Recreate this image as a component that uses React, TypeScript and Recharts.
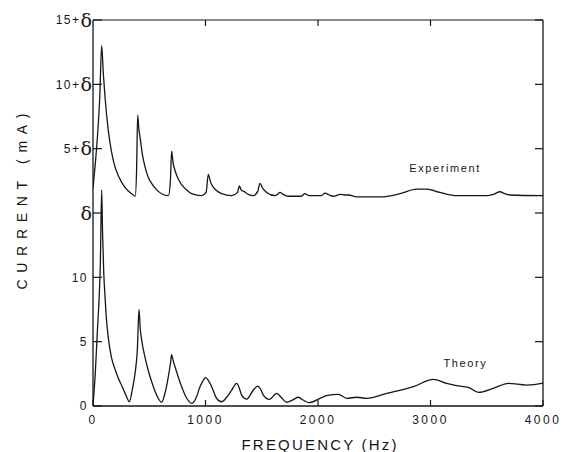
import React from 'react';
import { LineChart, Line, XAxis, YAxis, ReferenceDot } from 'recharts';

// ---- data (frequency in Hz, current in mA; upper trace offset by δ = 15) ----
const expFreq = [0, 20, 40, 60, 77, 92, 107, 136, 166, 195, 225, 284, 344, 375, 388, 397, 408, 418, 440, 462, 490, 521, 566, 610, 670, 688, 699, 712, 729, 760, 788, 830, 877, 966, 1005, 1025, 1045, 1070, 1105, 1144, 1233, 1285, 1301, 1320, 1336, 1380, 1425, 1465, 1484, 1510, 1544, 1618, 1640, 1662, 1690, 1736, 1850, 1884, 1920, 2030, 2062, 2100, 2136, 2200, 2240, 2270, 2344, 2551, 2729, 2877, 2966, 3084, 3233, 3500, 3560, 3618, 3660, 3707, 4000];
const expCurrent = [16.9, 18.8, 21.0, 24.0, 28.0, 25.8, 24.0, 21.4, 19.7, 18.6, 17.9, 17.0, 16.5, 16.3, 18.5, 22.6, 21.5, 20.9, 19.5, 18.6, 17.8, 17.3, 16.8, 16.5, 16.35, 17.5, 19.8, 18.9, 18.3, 17.6, 17.2, 16.8, 16.5, 16.35, 16.6, 18.0, 17.4, 17.0, 16.7, 16.5, 16.35, 16.6, 17.1, 16.75, 16.7, 16.45, 16.35, 16.7, 17.3, 16.9, 16.6, 16.35, 16.45, 16.6, 16.45, 16.3, 16.3, 16.5, 16.35, 16.35, 16.55, 16.4, 16.3, 16.45, 16.4, 16.4, 16.25, 16.25, 16.5, 16.85, 16.85, 16.6, 16.35, 16.35, 16.45, 16.65, 16.5, 16.4, 16.35];

const theoryFreq = [0, 20, 40, 55, 65, 77, 85, 95, 107, 120, 136, 151, 166, 190, 210, 230, 255, 299, 323, 350, 373, 394, 409, 420, 433, 462, 490, 521, 566, 610, 640, 670, 690, 699, 710, 729, 760, 788, 833, 877, 915, 951, 980, 1001, 1025, 1055, 1099, 1144, 1190, 1233, 1277, 1300, 1321, 1366, 1425, 1464, 1490, 1514, 1567, 1633, 1680, 1721, 1780, 1825, 1870, 1920, 2018, 2077, 2181, 2255, 2344, 2433, 2611, 2848, 3025, 3144, 3292, 3336, 3425, 3558, 3692, 3855, 3988, 4000];
const theoryCurrent = [0, 2.5, 6.0, 8.5, 11.0, 16.8, 13.5, 10.5, 8.5, 6.7, 5.3, 4.4, 3.7, 3.0, 2.5, 2.05, 1.6, 0.7, 0.33, 1.3, 2.5, 4.35, 7.5, 6.0, 5.1, 3.8, 2.8, 1.9, 0.85, 0.3, 1.0, 2.3, 3.4, 4.0, 3.6, 3.05, 2.2, 1.5, 0.6, 0.2, 0.6, 1.5, 2.0, 2.2, 2.0, 1.5, 0.6, 0.33, 0.7, 1.24, 1.76, 1.4, 0.85, 0.54, 1.24, 1.55, 1.3, 0.85, 0.52, 0.98, 0.6, 0.29, 0.5, 0.68, 0.45, 0.26, 0.59, 0.8, 0.91, 0.6, 0.68, 0.6, 0.98, 1.5, 2.07, 1.76, 1.5, 1.45, 1.06, 1.37, 1.76, 1.63, 1.76, 1.8];

const xTicks = [0, 1000, 2000, 3000, 4000];
const yTicks = [0, 5, 10, 15, 20, 25, 30];
const yTickLabels = ['0', '5', '10', 'δ', '5+δ', '10+δ', '15+δ'];

const seriesNames = ['Experiment', 'Theory'];
const seriesLabelFreq = [3130, 3310];
const seriesLabelCurrent = [18.5, 3.3];

const expData = expFreq.map((f, i) => ({ f, v: expCurrent[i] }));
const theoryData = theoryFreq.map((f, i) => ({ f, v: theoryCurrent[i] }));

const INK = '#161616';
const FONT = '"Liberation Sans", Arial, sans-serif';

// layout constants (styling only)
const W = 575;
const H = 452;
const M = { top: 19, right: 31, left: 0, bottom: 16 };
const Y_AXIS_W = 93;
const X_AXIS_H = 30;

const LeftTick = (props: any) => {
  const { x, y, payload } = props;
  const idx = yTicks.indexOf(payload.value);
  const label = idx >= 0 ? yTickLabels[idx] : String(payload.value);
  const hasDelta = label.includes('δ');
  const head = hasDelta ? label.replace('δ', '') : label;
  return (
    <g>
      <line x1={x} x2={x + 9} y1={y} y2={y} stroke={INK} strokeWidth={1.2} />
      <text
        x={hasDelta ? x - 1 : x - 5}
        y={y + 4.3}
        textAnchor="end"
        fill={INK}
        fontSize={12}
        fontFamily={FONT}
      >
        {hasDelta ? (
          <>
            <tspan style={{ letterSpacing: '1.5px' }}>{head}</tspan>
            <tspan fontSize={19} dy={2.5} fontFamily='"DejaVu Serif", serif'>δ</tspan>
          </>
        ) : (
          <tspan style={{ letterSpacing: '1.5px' }}>{head}</tspan>
        )}
      </text>
    </g>
  );
};

const RightTick = (props: any) => {
  const { x, y } = props;
  return <line x1={x} x2={x - 8} y1={y} y2={y} stroke={INK} strokeWidth={1.2} />;
};

const BottomTick = (props: any) => {
  const { x, y, payload } = props;
  return (
    <g>
      <line x1={x} x2={x} y1={y} y2={y - 6} stroke={INK} strokeWidth={1.2} />
      <text x={x} y={y + 17.5} textAnchor="middle" fill={INK} fontSize={12} fontFamily={FONT} style={{ letterSpacing: '2.5px' }}>
        {payload.value}
      </text>
    </g>
  );
};

const TopTick = (props: any) => {
  const { x, y } = props;
  return <line x1={x} x2={x} y1={y} y2={y + 6} stroke={INK} strokeWidth={1.2} />;
};

const YLabel = () => {
  const cx = 21.5;
  const cy = 201.5;
  const len = 176;
  return (
    <g transform={`translate(${cx}, ${cy}) rotate(-90)`}>
      <text
        x={-len / 2}
        y={0}
        textLength={len}
        lengthAdjust="spacing"
        dominantBaseline="central"
        fill={INK}
        fontSize={14}
        fontFamily={FONT}
      >
        CURRENT (mA)
      </text>
    </g>
  );
};

const XLabel = (props: any) => {
  const vb = props.viewBox;
  const len = 155;
  return (
    <text
      x={vb.x + vb.width / 2 + 1 - len / 2}
      y={vb.y + 44}
      textLength={len}
      lengthAdjust="spacing"
      fill={INK}
      fontSize={15}
      fontFamily={FONT}
    >
      FREQUENCY (Hz)
    </text>
  );
};

export default function App() {
  return (
    <div style={{ position: 'absolute', left: 0, top: 0, width: W, height: H, background: '#fff' }}>
      <LineChart width={W} height={H} margin={M}>
        <XAxis
          xAxisId="bottom"
          dataKey="f"
          type="number"
          domain={[0, 4000]}
          ticks={xTicks}
          allowDataOverflow
          height={X_AXIS_H}
          tickSize={0}
          tickMargin={0}
          tickLine={false}
          axisLine={{ stroke: INK, strokeWidth: 1.3 }}
          tick={<BottomTick />}
          interval={0}
          label={<XLabel />}
        />
        <XAxis
          xAxisId="top"
          orientation="top"
          dataKey="f"
          type="number"
          domain={[0, 4000]}
          ticks={[1000, 2000, 3000]}
          allowDataOverflow
          height={1}
          tickSize={0}
          tickMargin={0}
          tickLine={false}
          axisLine={{ stroke: INK, strokeWidth: 1.2 }}
          tick={<TopTick />}
          interval={0}
        />
        <YAxis
          yAxisId="left"
          type="number"
          domain={[0, 30]}
          ticks={yTicks}
          allowDataOverflow
          width={Y_AXIS_W}
          tickSize={0}
          tickMargin={0}
          tickLine={false}
          axisLine={{ stroke: INK, strokeWidth: 1.3 }}
          tick={<LeftTick />}
          interval={0}
          label={<YLabel />}
        />
        <YAxis
          yAxisId="right"
          orientation="right"
          type="number"
          domain={[0, 30]}
          ticks={yTicks}
          allowDataOverflow
          width={1}
          tickSize={0}
          tickMargin={0}
          tickLine={false}
          axisLine={{ stroke: INK, strokeWidth: 1.3 }}
          tick={<RightTick />}
          interval={0}
        />
        <Line
          xAxisId="bottom"
          yAxisId="left"
          data={expData}
          dataKey="v"
          type="monotone"
          stroke={INK}
          strokeWidth={1.3}
          dot={false}
          isAnimationActive={false}
        />
        <Line
          xAxisId="bottom"
          yAxisId="left"
          data={theoryData}
          dataKey="v"
          type="monotone"
          stroke={INK}
          strokeWidth={1.3}
          dot={false}
          isAnimationActive={false}
        />
        <Line
          xAxisId="top"
          yAxisId="right"
          data={theoryData}
          dataKey="v"
          stroke="none"
          dot={false}
          activeDot={false}
          isAnimationActive={false}
        />
        {seriesNames.map((name, i) => (
          <ReferenceDot
            key={name}
            xAxisId="bottom"
            yAxisId="left"
            x={seriesLabelFreq[i]}
            y={seriesLabelCurrent[i]}
            r={0}
            fill="none"
            stroke="none"
            label={{ value: name, position: 'center', fill: INK, fontSize: 11, fontFamily: FONT, style: { letterSpacing: '1.6px' } }}
          />
        ))}
      </LineChart>
    </div>
  );
}
